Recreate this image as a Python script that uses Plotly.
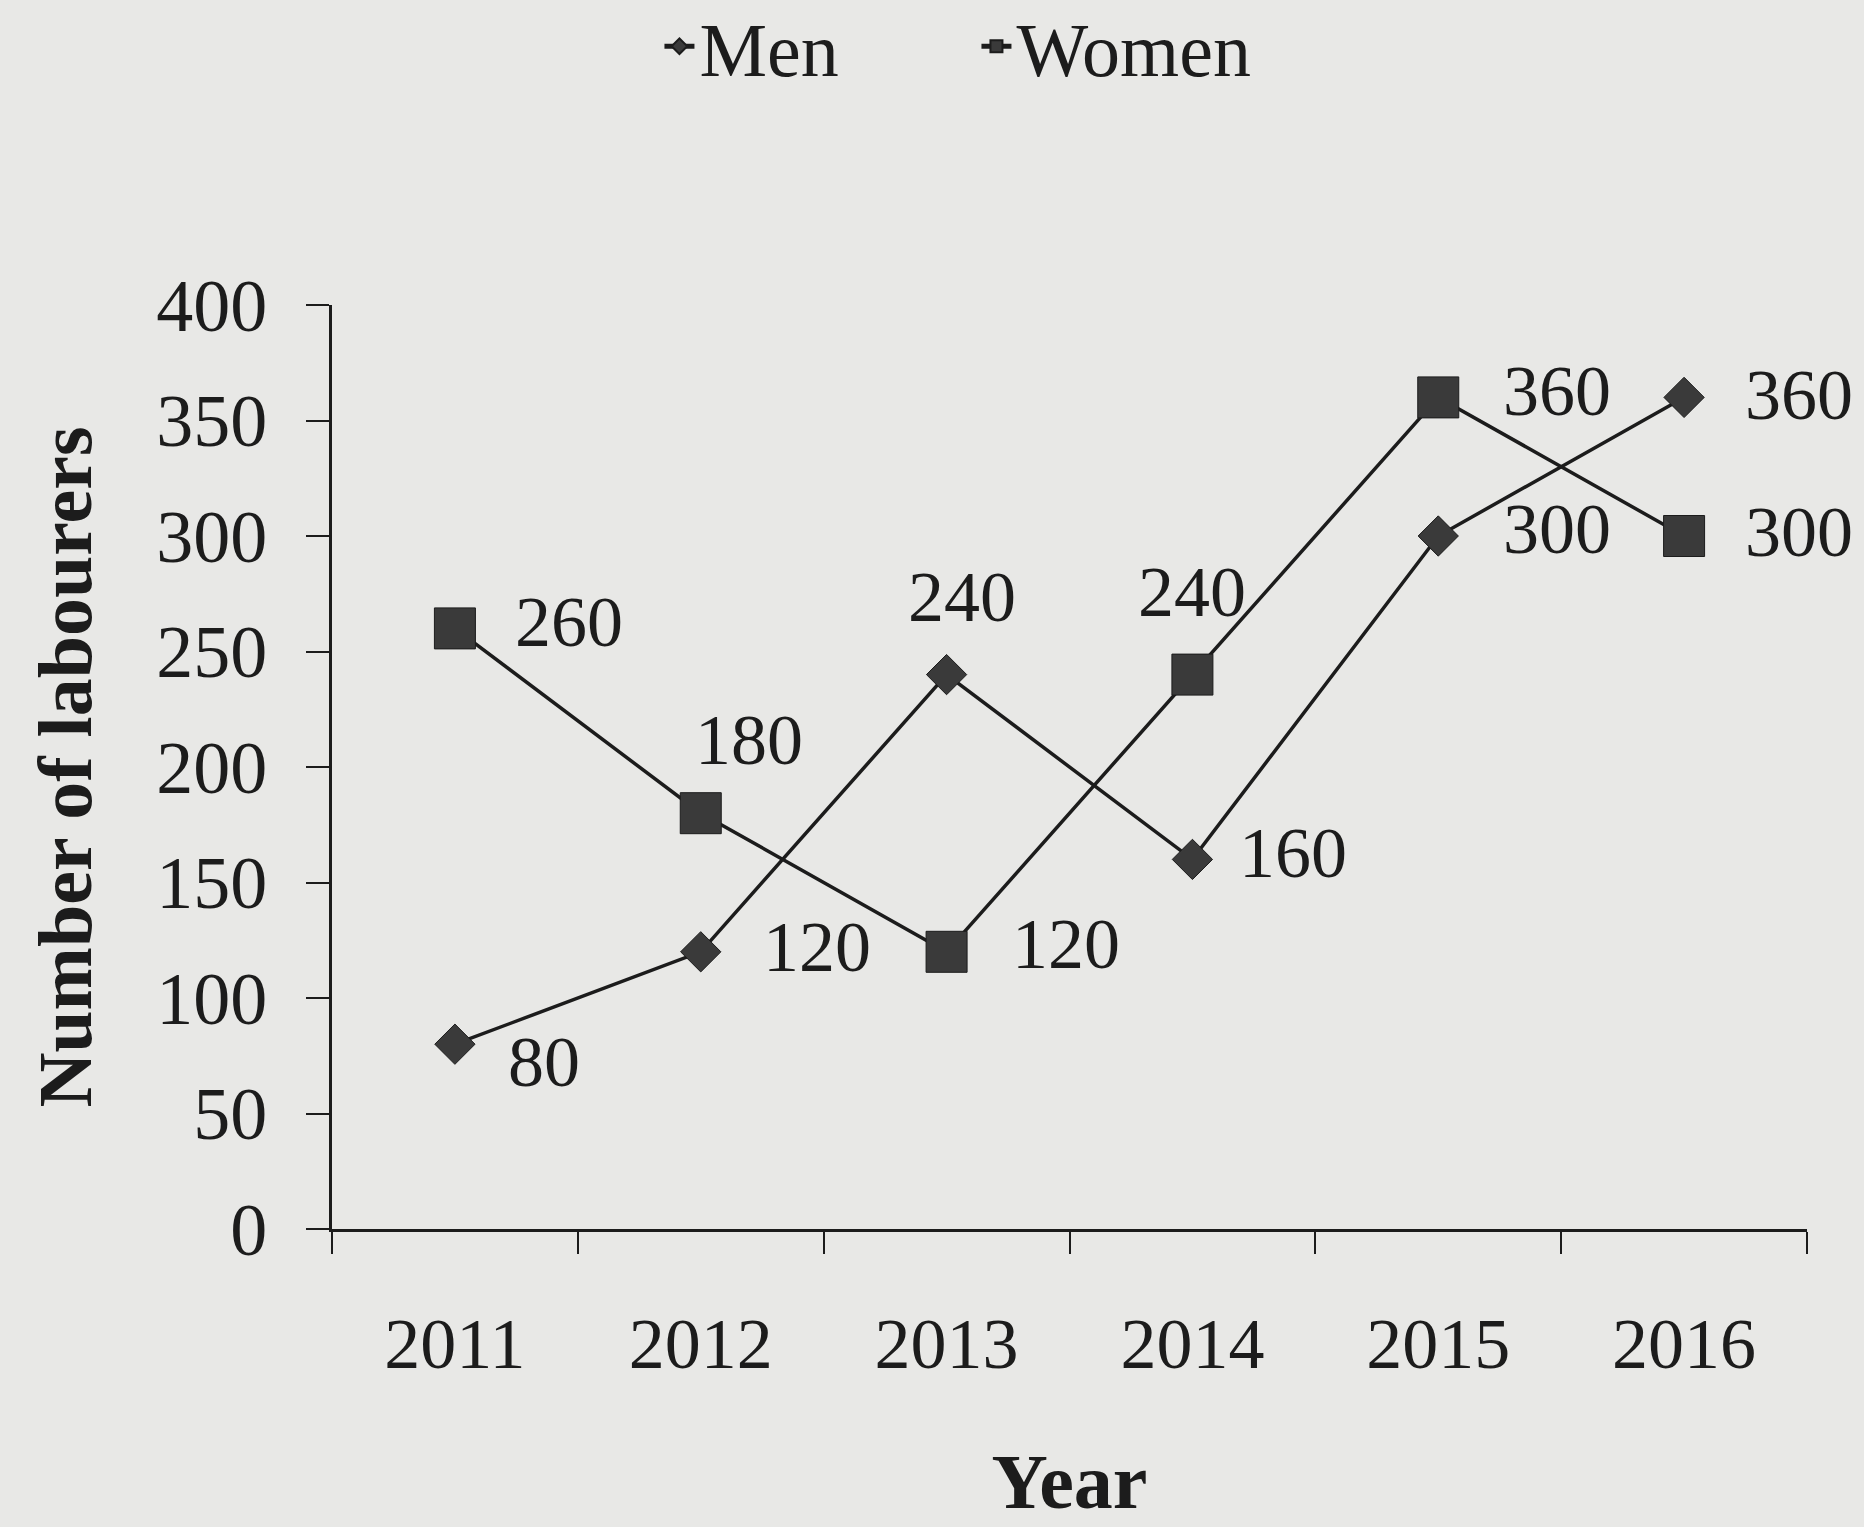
import plotly.graph_objects as go

years = ["2011", "2012", "2013", "2014", "2015", "2016"]
men = [80, 120, 240, 160, 300, 360]
women = [260, 180, 120, 240, 360, 300]
y_ticks = [0, 50, 100, 150, 200, 250, 300, 350, 400]

# label offsets in pixels (x right, y up) relative to each point
men_label_shift = [(89, -18), (116, 5), (15, 78), (101, 6), (119, 7), (115, 2)]
women_label_shift = [(114, 6), (48, 73), (119, 8), (0, 83), (119, 6), (115, 4)]

FONT = "Liberation Serif"
INK = "#1c1c1c"
BG = "#e8e8e6"

fig = go.Figure()
fig.add_trace(go.Scatter(
    x=years, y=men, name="Men", mode="lines+markers",
    line=dict(color=INK, width=3.5),
    marker=dict(symbol="diamond", size=31, color="#3a3a3a", line=dict(color=INK, width=1)),
    cliponaxis=False,
))
fig.add_trace(go.Scatter(
    x=years, y=women, name="Women", mode="lines+markers",
    line=dict(color=INK, width=3.5),
    marker=dict(symbol="square", size=41, color="#3a3a3a", line=dict(color=INK, width=1)),
    cliponaxis=False,
))

annotations = []
for series, shifts in ((men, men_label_shift), (women, women_label_shift)):
    for i, (v, (dx, dy)) in enumerate(zip(series, shifts)):
        annotations.append(dict(
            x=i, y=v, xref="x", yref="y", text=str(v), showarrow=False,
            xanchor="center", yanchor="middle", xshift=dx, yshift=dy,
            font=dict(family=FONT, size=72, color=INK),
        ))

fig.update_layout(
    width=1864, height=1527,
    margin=dict(l=332, r=57, t=305, b=298, autoexpand=False),
    paper_bgcolor=BG, plot_bgcolor=BG,
    font=dict(family=FONT, color=INK, size=70),
    showlegend=True,
    annotations=annotations,
    legend=dict(orientation="h", x=0.222, xanchor="left", y=1.28, yanchor="middle",
                font=dict(family=FONT, size=76, color=INK), bgcolor="rgba(0,0,0,0)",
                entrywidth=272, entrywidthmode="pixels", itemsizing="constant"),
    xaxis=dict(
        type="category", range=[-0.5, 5.5], tickson="boundaries",
        ticks="outside", ticklen=22, tickwidth=2, tickcolor=INK,
        showline=True, linecolor=INK, linewidth=3, showgrid=False, zeroline=False,
        tickfont=dict(family=FONT, size=72, color=INK), ticklabelstandoff=50,
        title=dict(text="<b>Year</b>", font=dict(family=FONT, size=78, color=INK), standoff=70),
    ),
    yaxis=dict(
        range=[0, 400], tickmode="array", tickvals=y_ticks,
        ticks="outside", ticklen=23, tickwidth=2, tickcolor=INK,
        showline=True, linecolor=INK, linewidth=3, showgrid=False, zeroline=False,
        tickfont=dict(family=FONT, size=74, color=INK), ticklabelstandoff=24,
        title=dict(text="<b>Number of labourers</b>", font=dict(family=FONT, size=76, color=INK), standoff=40),
    ),
)

fig.write_html("out.html")
